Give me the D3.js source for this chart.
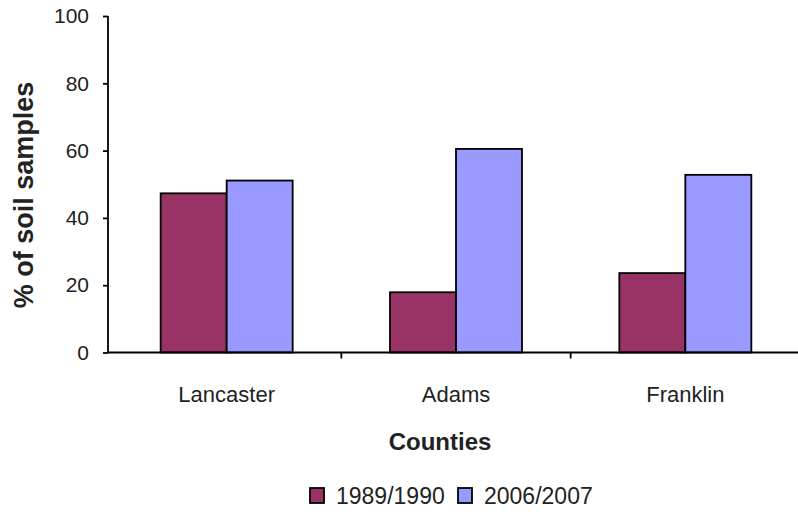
<!DOCTYPE html>
<html><head><meta charset="utf-8">
<script src="https://cdn.jsdelivr.net/npm/d3@7"></script>
<style>body{margin:0;background:#fff}svg{display:block;font-family:"Liberation Sans",Arial,sans-serif}</style>
</head><body><svg id="c" width="798" height="514"></svg>
<script>
const categories = ["Lancaster", "Adams", "Franklin"];
const seriesNames = ["1989/1990", "2006/2007"];
const values1989 = [47.3, 17.9, 23.6];
const values2006 = [51.1, 60.5, 52.8];
const yTicks = [0, 20, 40, 60, 80, 100];
const colors = ["#993366", "#9999FF"];

const svg = d3.select("#c");
const x = d3.scaleBand().domain(categories).range([112, 800]);
const y = d3.scaleLinear().domain([0, 100]).range([352.5, 16]);
const barW = 66;
const series = [values1989, values2006];

// bars
series.forEach((vals, si) => {
  svg.append("g").selectAll("rect").data(categories).join("rect")
    .attr("x", c => x(c) + x.bandwidth() / 2 - barW + si * barW)
    .attr("y", (c, i) => y(vals[i]))
    .attr("width", barW)
    .attr("height", (c, i) => y(0) - y(vals[i]))
    .attr("fill", colors[si])
    .attr("stroke", "#000").attr("stroke-width", 1.8);
});

// y axis
const yAxis = svg.append("g").attr("transform", "translate(108,0)")
  .call(d3.axisLeft(y).tickValues(yTicks).tickSize(5).tickPadding(14));
yAxis.select(".domain").attr("stroke-width", 1.8).attr("d", `M0,${y(100)}V${y(0)}`);
yAxis.selectAll(".tick line").attr("stroke-width", 1.8);
yAxis.selectAll("text").attr("font-size", 21).attr("fill", "#222");

// x axis line
svg.append("line").attr("x1", 108).attr("x2", 798).attr("y1", y(0)).attr("y2", y(0))
  .attr("stroke", "#000").attr("stroke-width", 1.8);
// category separator ticks
svg.append("g").selectAll("line").data(categories.slice(1)).join("line")
  .attr("x1", c => x(c)).attr("x2", c => x(c))
  .attr("y1", y(0)).attr("y2", y(0) + 6)
  .attr("stroke", "#000").attr("stroke-width", 1.8);
// category labels
svg.append("g").selectAll("text").data(categories).join("text")
  .attr("x", c => x(c) + x.bandwidth() / 2)
  .attr("y", 402)
  .attr("text-anchor", "middle").attr("font-size", 22).attr("fill", "#222")
  .text(c => c);

// axis titles
svg.append("text").attr("transform", "translate(33,195) rotate(-90)")
  .attr("text-anchor", "middle").attr("font-size", 27).attr("font-weight", "bold").attr("fill", "#222")
  .text("% of soil samples");
svg.append("text").attr("x", 440).attr("y", 450)
  .attr("text-anchor", "middle").attr("font-size", 24).attr("font-weight", "bold").attr("fill", "#222")
  .text("Counties");

// legend
const legX = [310, 458];
const lg = svg.append("g");
seriesNames.forEach((n, i) => {
  lg.append("rect").attr("x", legX[i]).attr("y", 488).attr("width", 14).attr("height", 15)
    .attr("fill", colors[i]).attr("stroke", "#000").attr("stroke-width", 1.8);
  lg.append("text").attr("x", legX[i] + 26).attr("y", 504)
    .attr("font-size", 23).attr("fill", "#222").text(n);
});
</script>
</body></html>
